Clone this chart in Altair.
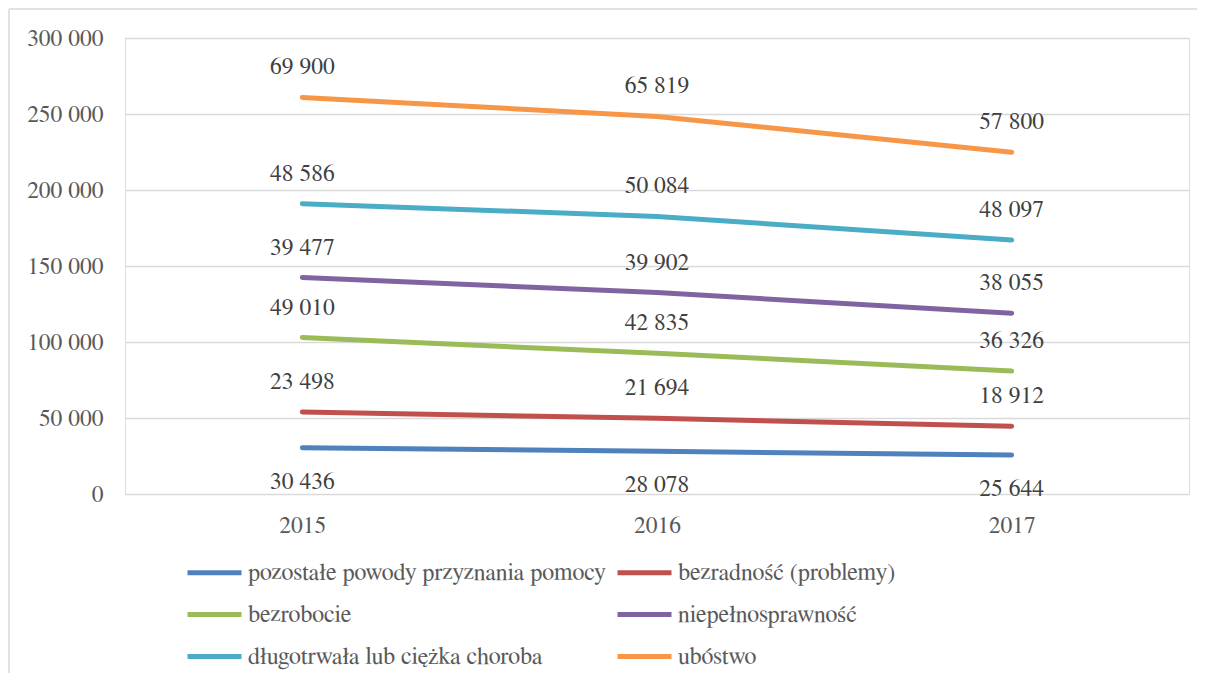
import altair as alt
import pandas as pd

years = ["2015", "2016", "2017"]
series = [
    "pozostałe powody przyznania pomocy",
    "bezradność (problemy)",
    "bezrobocie",
    "niepełnosprawność",
    "długotrwała lub ciężka choroba",
    "ubóstwo",
]
colors = ["#4f81bd", "#c0504d", "#9bbb59", "#8064a2", "#4bacc6", "#f79646"]
v_pozostale = [30436, 28078, 25644]
v_bezradnosc = [23498, 21694, 18912]
v_bezrobocie = [49010, 42835, 36326]
v_niepeln = [39477, 39902, 38055]
v_choroba = [48586, 50084, 48097]
v_ubostwo = [69900, 65819, 57800]
values = [v_pozostale, v_bezradnosc, v_bezrobocie, v_niepeln, v_choroba, v_ubostwo]

rows = []
for i, (s, vals) in enumerate(zip(series, values)):
    for y, v in zip(years, vals):
        rows.append({"series": s, "order": i, "year": y, "value": v})
df = pd.DataFrame(rows)
df = df.sort_values(["year", "order"])
df["cum"] = df.groupby("year")["value"].cumsum()
df["label"] = df["value"].map(lambda v: f"{v:,}".replace(",", " "))
df = df.sort_values(["order", "year"]).reset_index(drop=True)

# legend is laid out column-major, so list entries so that rows read as in the original
leg_idx = [0, 2, 4, 1, 3, 5]
leg_domain = [series[i] for i in leg_idx]
leg_range = [colors[i] for i in leg_idx]

W, H = 1064, 456
FONT = "FreeSerif, Noto Serif, DejaVu Serif, serif"
FS = 23.5

x = alt.X("year:N", scale=alt.Scale(type="point", padding=0.5),
          axis=alt.Axis(title=None, labelAngle=0, domain=False, ticks=False,
                        labelPadding=19, labelFontSize=FS, labelColor="#595959",
                        labelFont=FONT, grid=False))
y = alt.Y("cum:Q", scale=alt.Scale(domain=[0, 300000]),
          axis=alt.Axis(title=None, values=[0, 50000, 100000, 150000, 200000, 250000, 300000],
                        labelExpr="replace(format(datum.value, ','), ',', ' ')",
                        domain=False, ticks=False, labelPadding=22, labelFontSize=FS,
                        labelColor="#595959", labelFont=FONT, gridColor="#d9d9d9",
                        gridWidth=1.3))
color = alt.Color("series:N", scale=alt.Scale(domain=leg_domain, range=leg_range),
                  legend=alt.Legend(title=None, orient="none", legendX=60, legendY=505,
                                    columns=2, symbolType="stroke", symbolSize=2916,
                                    symbolStrokeWidth=5, labelFontSize=24, labelFont=FONT,
                                    labelColor="#595959", labelOffset=4, columnPadding=1,
                                    rowPadding=-1, labelLimit=600, padding=0))

base = alt.Chart(df)
one = pd.DataFrame({"a": [0]})

frame_top = alt.Chart(one).mark_rule(stroke="#d9d9d9", strokeWidth=1.5).encode(
    x=alt.value(-116), x2=alt.value(W + 300), y=alt.value(-29))
frame_left = alt.Chart(one).mark_rule(stroke="#d9d9d9", strokeWidth=1.5).encode(
    x=alt.value(-116), y=alt.value(-29), y2=alt.value(H + 400))

lines = base.mark_line(strokeWidth=5, strokeCap="round", strokeJoin="round").encode(
    x=x, y=y, color=color, detail="series:N", order="year:N")

labels_up = base.transform_filter(alt.datum.order > 0).mark_text(
    dy=-30, fontSize=FS, font=FONT, color="#404040").encode(
    x=x, y=y, text="label:N")
labels_down = base.transform_filter(alt.datum.order == 0).mark_text(
    dy=34, fontSize=FS, font=FONT, color="#404040").encode(
    x=x, y=y, text="label:N")

chart = alt.layer(frame_top, frame_left, lines, labels_up, labels_down).properties(
    width=W, height=H,
    autosize=alt.AutoSizeParams(type="none"),
    padding={"left": 117, "top": 30, "right": 8, "bottom": 179},
).configure_view(stroke=None).configure(background="white")

chart.save("out.html", embed_options={"renderer": "svg", "actions": False})
